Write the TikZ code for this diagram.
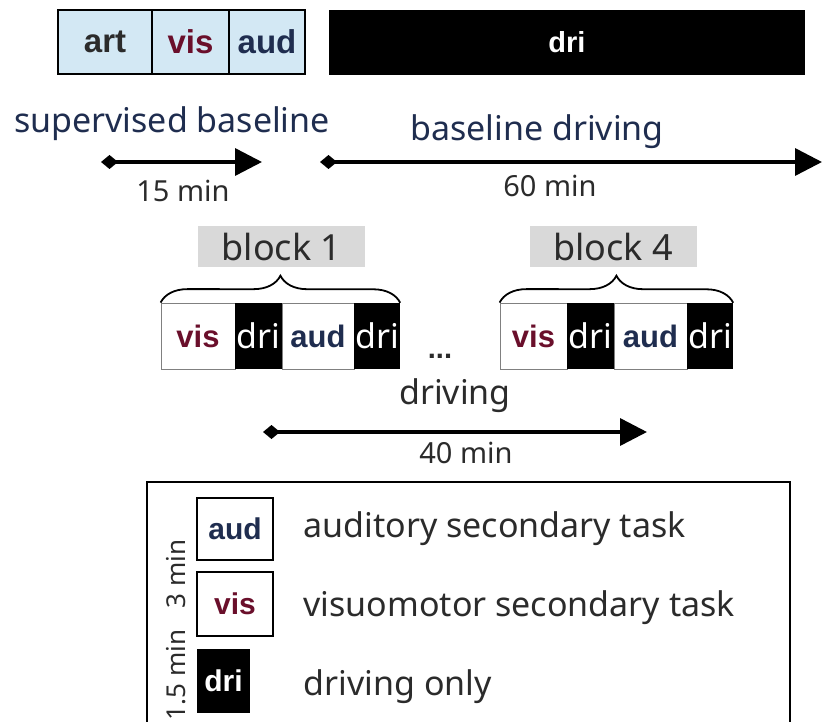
\documentclass[tikz,border=0pt]{standalone}
\usepackage{fontspec}
\setmainfont{Noto Sans}
\newfontfamily\labelfont{Liberation Sans}
\usetikzlibrary{arrows.meta,decorations.pathreplacing}
\definecolor{navy}{HTML}{1F2D4F}
\definecolor{wine}{HTML}{6A0F2B}
\definecolor{ink}{HTML}{2B2B2B}
\definecolor{sky}{HTML}{D3E8F4}
\definecolor{shade}{HTML}{D9D9D9}

\begin{document}
\begin{tikzpicture}[x=1pt, y=-1pt, timeline/.style={{Diamond[length=17pt,width=14pt]}-{Triangle[length=27pt,width=27pt]}, line width=3.5pt}]
        \tikzset{task/.style={rectangle, inner sep=0pt, minimum height=64pt, font=\labelfont\fontsize{31}{31}\selectfont\bfseries}};
        \tikzset{topbox/.style={task, draw=black, line width=1.5pt, fill=sky}};
        \tikzset{blkbox/.style={task, draw=gray, line width=0.8pt, fill=white, minimum height=66pt}};
        \tikzset{drivebox/.style={task, fill=black, text=white}};
        \tikzset{caption/.style={font=\fontsize{34}{34}\selectfont, text=ink}};
        \tikzset{dur/.style={font=\fontsize{29}{29}\selectfont, text=ink}};
        \tikzset{tag/.style={caption, font=\fontsize{36}{36}\selectfont, fill=shade, minimum width=167pt, minimum height=41pt, inner sep=0pt}};
        \useasboundingbox (0,0) rectangle (822,722);

        % top row
        \node[topbox, minimum width=94pt, text=ink, font=\labelfont\fontsize{33}{33}\selectfont\bfseries] (art) at (105,42) {art};
        \node[topbox, minimum width=77pt, text=wine, font=\labelfont\fontsize{33}{33}\selectfont\bfseries] (vis0) at (190.5,42) {vis};
        \node[topbox, minimum width=76pt, text=navy, font=\labelfont\fontsize{33}{33}\selectfont\bfseries] (aud0) at (267,42) {aud};
        \node[drivebox, minimum width=476pt, minimum height=65pt, font=\labelfont\fontsize{29}{29}\selectfont\bfseries] (dri0) at (567,42.5) {dri};

        % timelines
        \node[caption, text=navy] (sup) at (172,124) {supervised baseline};
        \coordinate (s1) at (101,162);
        \coordinate (e1) at (262,162);
        \draw[timeline] (s1) -- (e1);
        \node[dur] (t1) at (183,191) {15 min};

        \node[caption, text=navy] (base) at (537,132) {baseline driving};
        \coordinate (s2) at (320,162);
        \coordinate (e2) at (822,162);
        \draw[timeline] (s2) -- (e2);
        \node[dur] (t2) at (550,186) {60 min};

        % block 1
        \node[tag] (b1) at (281.5,246.5) {block 1};
        \node[blkbox, minimum width=74pt, text=wine] (vis1) at (198,336) {vis};
        \node[drivebox, minimum width=47pt, minimum height=66pt, font=\fontsize{34}{34}\selectfont] (dri1) at (258.5,336) {dri};
        \node[blkbox, minimum width=72pt, text=navy] (aud1) at (318,336) {aud};
        \node[drivebox, minimum width=46pt, minimum height=66pt, font=\fontsize{34}{34}\selectfont] (dri2) at (377,336) {dri};
        \draw[decorate, decoration={brace, amplitude=27pt}, line width=1.8pt] (vis1.north west) -- (dri2.north east);

        \node[font=\labelfont\fontsize{29}{29}\selectfont\bfseries, text=ink] (dots) at (440,356) {...};

        % block 4
        \node[tag] (b4) at (613,246.5) {block 4};
        \node[blkbox, minimum width=67pt, text=wine] (vis4) at (533.5,336) {vis};
        \node[drivebox, minimum width=47pt, minimum height=66pt, font=\fontsize{34}{34}\selectfont] (dri3) at (590.5,336) {dri};
        \node[blkbox, minimum width=73pt, text=navy] (aud4) at (650.5,336) {aud};
        \node[drivebox, minimum width=46pt, minimum height=66pt, font=\fontsize{34}{34}\selectfont] (dri4) at (710,336) {dri};
        \draw[decorate, decoration={brace, amplitude=27pt}, line width=1.8pt] (vis4.north west) -- (dri4.north east);

        % driving
        \node[caption] (drv) at (455,396) {driving};
        \coordinate (s3) at (263,432);
        \coordinate (e3) at (647,432);
        \draw[timeline] (s3) -- (e3);
        \node[dur] (t3) at (466,453) {40 min};

        % legend
        \draw[line width=1.8pt] (147,482) rectangle (790,730);
        \node[blkbox, draw=black, line width=1.2pt, minimum width=76pt, minimum height=62pt, text=navy, font=\labelfont\fontsize{30}{30}\selectfont\bfseries] (audL) at (235,529) {aud};
        \node[blkbox, draw=black, line width=1.2pt, minimum width=76pt, minimum height=64pt, text=wine, font=\labelfont\fontsize{30}{30}\selectfont\bfseries] (visL) at (235,604) {vis};
        \node[drivebox, minimum width=53pt, minimum height=64pt, font=\labelfont\fontsize{30}{30}\selectfont\bfseries] (driL) at (223.5,681) {dri};
        \node[dur, font=\fontsize{26}{26}\selectfont, rotate=90] (m3) at (176,574) {3 min};
        \node[dur, font=\fontsize{26}{26}\selectfont, rotate=90] (m15) at (176,675) {1.5 min};
        \node[caption, anchor=west] (audT) at (300,529) {auditory secondary task};
        \node[caption, anchor=west] (visT) at (300,608) {visuomotor secondary task};
        \node[caption, anchor=west] (driT) at (300,687) {driving only};
    \end{tikzpicture}
\end{document}
